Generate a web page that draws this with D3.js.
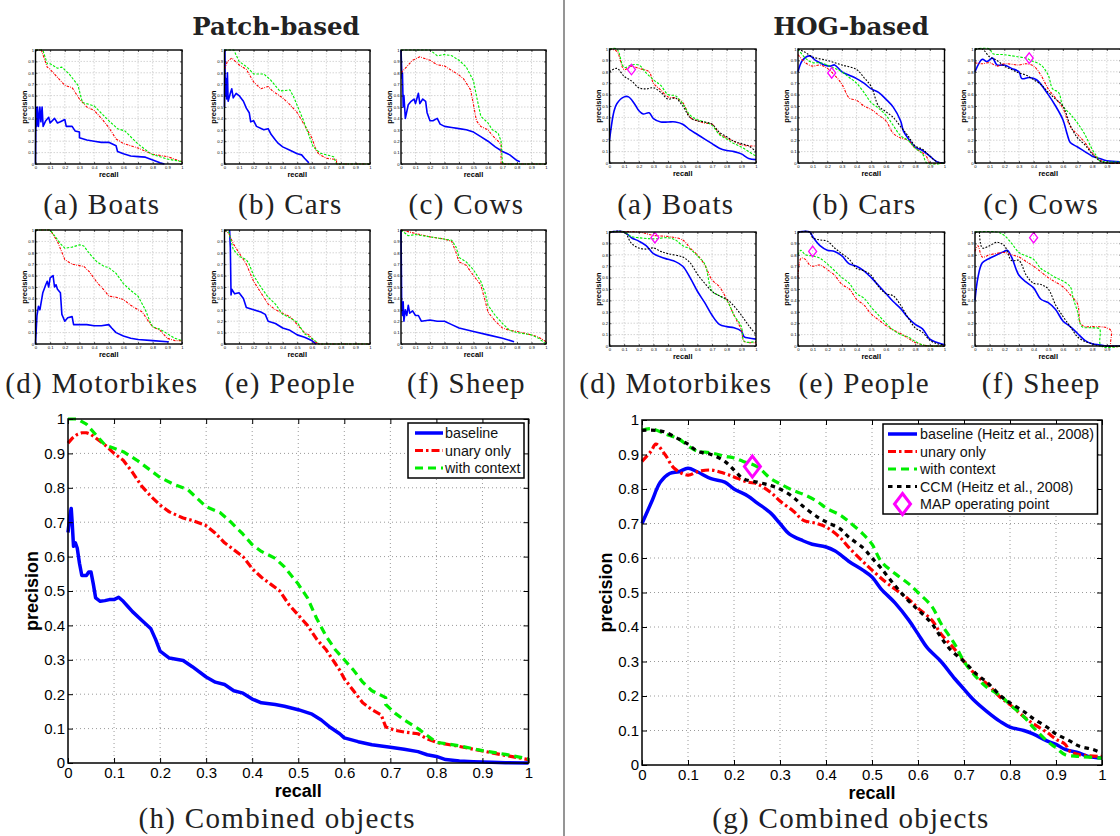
<!DOCTYPE html>
<html>
<head>
<meta charset="utf-8">
<script src="https://cdn.jsdelivr.net/npm/d3@7"></script>
<style>
  body { margin: 0; background: #fff; }
</style>
</head>
<body>
<script>
// ---------- data: [recall, precision] ----------
const seriesKeys = ['baseline', 'unary', 'context', 'ccm'];
const tickValues = [0, 0.1, 0.2, 0.3, 0.4, 0.5, 0.6, 0.7, 0.8, 0.9, 1];

const groupTitles = ['Patch-based', 'HOG-based'];
const smallCaptions = ['(a) Boats', '(b) Cars', '(c) Cows', '(d) Motorbikes', '(e) People', '(f) Sheep'];
const patchBigCaption = '(h) Combined objects';
const hogBigCaption = '(g) Combined objects';
const patchLegend = ['baseline', 'unary only', 'with context'];
const hogLegend = ['baseline (Heitz et al., 2008)', 'unary only', 'with context', 'CCM (Heitz et al., 2008)', 'MAP operating point'];

// Patch-based, small panels
const patchBoatsBase = [[0,0],[0.003,0.5],[0.008,0.33],[0.014,0.5],[0.02,0.33],[0.03,0.5],[0.037,0.37],[0.045,0.5],[0.052,0.33],[0.07,0.38],[0.09,0.41],[0.1,0.36],[0.13,0.4],[0.15,0.36],[0.17,0.37],[0.2,0.39],[0.21,0.33],[0.25,0.33],[0.27,0.29],[0.3,0.28],[0.3,0.23],[0.35,0.21],[0.4,0.2],[0.45,0.19],[0.5,0.19],[0.55,0.16],[0.56,0.11],[0.6,0.09],[0.65,0.07],[0.7,0.065],[0.75,0.06],[0.8,0.035],[0.85,0.01],[0.88,0]];
const patchBoatsUnary = [[0,1],[0.04,1],[0.08,0.85],[0.1,0.83],[0.15,0.76],[0.2,0.69],[0.25,0.67],[0.3,0.57],[0.35,0.5],[0.4,0.47],[0.45,0.4],[0.5,0.32],[0.55,0.22],[0.6,0.18],[0.7,0.14],[0.8,0.085],[0.9,0.065],[1,0.02]];
const patchBoatsCtx = [[0,1],[0.05,1],[0.08,0.88],[0.1,0.88],[0.15,0.84],[0.18,0.85],[0.23,0.79],[0.29,0.69],[0.32,0.54],[0.4,0.51],[0.5,0.38],[0.56,0.31],[0.61,0.29],[0.7,0.175],[0.79,0.087],[0.9,0.044],[1,0.02]];
const patchCarsBase = [[0,0.5],[0.003,1],[0.005,0.6],[0.01,0.75],[0.015,0.57],[0.02,0.8],[0.025,0.55],[0.04,0.62],[0.05,0.66],[0.06,0.58],[0.08,0.62],[0.1,0.6],[0.13,0.55],[0.15,0.49],[0.17,0.45],[0.18,0.37],[0.2,0.38],[0.22,0.33],[0.27,0.3],[0.3,0.31],[0.32,0.26],[0.35,0.21],[0.37,0.18],[0.4,0.15],[0.45,0.12],[0.5,0.09],[0.53,0.08],[0.55,0.05],[0.58,0.01]];
const patchCarsUnary = [[0,0.83],[0.02,0.9],[0.05,0.93],[0.1,0.87],[0.15,0.83],[0.2,0.72],[0.25,0.66],[0.3,0.68],[0.33,0.64],[0.4,0.58],[0.45,0.52],[0.5,0.45],[0.55,0.34],[0.6,0.23],[0.63,0.12],[0.65,0.085],[0.7,0.05],[0.77,0.04],[0.77,0],[1,0]];
const patchCarsCtx = [[0,1],[0.064,1],[0.1,0.9],[0.155,0.85],[0.2,0.79],[0.27,0.79],[0.315,0.74],[0.38,0.64],[0.45,0.65],[0.475,0.59],[0.54,0.39],[0.61,0.15],[0.66,0.094],[0.75,0.064],[0.77,0],[1,0]];
const patchCowsBase = [[0,1],[0.007,0.75],[0.01,0.8],[0.015,0.5],[0.02,0.6],[0.03,0.4],[0.05,0.52],[0.07,0.55],[0.09,0.57],[0.1,0.53],[0.12,0.62],[0.13,0.53],[0.15,0.57],[0.17,0.55],[0.18,0.45],[0.2,0.38],[0.22,0.38],[0.25,0.4],[0.27,0.35],[0.3,0.33],[0.35,0.32],[0.4,0.31],[0.45,0.3],[0.5,0.28],[0.55,0.24],[0.6,0.2],[0.65,0.15],[0.7,0.11],[0.75,0.08],[0.8,0.03],[0.82,0.02]];
const patchCowsUnary = [[0,0.8],[0.03,0.84],[0.08,0.91],[0.13,0.94],[0.2,0.91],[0.25,0.87],[0.3,0.86],[0.35,0.82],[0.4,0.78],[0.43,0.75],[0.48,0.65],[0.5,0.52],[0.52,0.38],[0.55,0.33],[0.6,0.3],[0.63,0.25],[0.67,0.2],[0.69,0.17],[0.69,0],[1,0]];
const patchCowsCtx = [[0,1],[0.2,1],[0.25,0.95],[0.3,0.96],[0.35,0.95],[0.4,0.91],[0.45,0.85],[0.5,0.73],[0.52,0.6],[0.55,0.42],[0.6,0.36],[0.63,0.3],[0.67,0.27],[0.69,0.2],[0.7,0],[1,0]];
const patchMotoBase = [[0,0],[0.01,0.25],[0.02,0.33],[0.03,0.3],[0.05,0.45],[0.07,0.52],[0.08,0.55],[0.09,0.5],[0.1,0.58],[0.12,0.6],[0.13,0.5],[0.14,0.52],[0.15,0.48],[0.17,0.45],[0.18,0.26],[0.2,0.2],[0.22,0.23],[0.25,0.24],[0.26,0.17],[0.3,0.17],[0.35,0.17],[0.4,0.16],[0.45,0.16],[0.5,0.17],[0.52,0.14],[0.55,0.1],[0.6,0.07],[0.65,0.05],[0.7,0.04],[0.8,0.03],[0.9,0.02],[0.91,0.02]];
const patchMotoUnary = [[0,1],[0.1,1],[0.15,0.9],[0.2,0.74],[0.25,0.7],[0.33,0.68],[0.37,0.63],[0.42,0.54],[0.47,0.47],[0.5,0.42],[0.55,0.41],[0.6,0.39],[0.65,0.34],[0.7,0.3],[0.73,0.28],[0.77,0.2],[0.8,0.15],[0.85,0.12],[0.9,0.05],[0.95,0.03],[1,0.03]];
const patchMotoCtx = [[0,1],[0.1,1],[0.13,0.95],[0.17,0.88],[0.2,0.84],[0.25,0.85],[0.3,0.87],[0.33,0.86],[0.37,0.79],[0.42,0.72],[0.47,0.68],[0.5,0.67],[0.55,0.62],[0.6,0.53],[0.65,0.47],[0.7,0.42],[0.75,0.3],[0.78,0.2],[0.8,0.15],[0.85,0.13],[0.9,0.09],[0.95,0.05],[1,0.03]];
const patchPeopleBase = [[0.035,1],[0.04,0.85],[0.045,0.43],[0.05,0.48],[0.07,0.44],[0.1,0.45],[0.13,0.4],[0.15,0.32],[0.2,0.3],[0.25,0.28],[0.28,0.26],[0.3,0.2],[0.35,0.18],[0.4,0.14],[0.45,0.12],[0.5,0.08],[0.55,0.06],[0.6,0.03],[0.63,0]];
const patchPeopleUnary = [[0,1],[0.03,0.97],[0.06,0.88],[0.1,0.8],[0.15,0.7],[0.2,0.55],[0.25,0.45],[0.3,0.35],[0.35,0.3],[0.4,0.27],[0.45,0.24],[0.5,0.17],[0.55,0.1],[0.58,0.08],[0.62,0.02],[0.65,0],[1,0]];
const patchPeopleCtx = [[0,1],[0.03,0.98],[0.06,0.83],[0.1,0.77],[0.15,0.74],[0.17,0.7],[0.2,0.6],[0.25,0.5],[0.3,0.41],[0.35,0.35],[0.4,0.26],[0.45,0.23],[0.5,0.19],[0.55,0.09],[0.6,0.05],[0.65,0],[1,0]];
const patchSheepBase = [[0,1],[0.005,0.3],[0.01,0.25],[0.015,0.37],[0.02,0.2],[0.03,0.3],[0.04,0.25],[0.05,0.34],[0.06,0.27],[0.08,0.29],[0.1,0.25],[0.12,0.25],[0.14,0.2],[0.2,0.21],[0.25,0.2],[0.3,0.2],[0.35,0.17],[0.4,0.14],[0.5,0.11],[0.6,0.08],[0.7,0.05],[0.78,0.02]];
const patchSheepUnary = [[0,1],[0.1,0.97],[0.2,0.94],[0.3,0.92],[0.35,0.9],[0.38,0.8],[0.4,0.72],[0.45,0.69],[0.5,0.6],[0.55,0.52],[0.58,0.38],[0.6,0.28],[0.65,0.2],[0.7,0.14],[0.75,0.12],[0.8,0.11],[0.9,0.08],[0.95,0.06],[1,0.02]];
const patchSheepCtx = [[0,1],[0.05,0.95],[0.1,0.96],[0.2,0.94],[0.3,0.92],[0.35,0.91],[0.38,0.85],[0.4,0.76],[0.45,0.72],[0.5,0.65],[0.55,0.55],[0.58,0.45],[0.6,0.34],[0.65,0.25],[0.7,0.18],[0.75,0.12],[0.8,0.1],[0.9,0.08],[0.95,0.05],[1,0]];

// HOG-based, small panels
const hogBoatsBase = [[0,0.2],[0.03,0.45],[0.05,0.52],[0.1,0.58],[0.13,0.58],[0.17,0.52],[0.2,0.46],[0.23,0.43],[0.27,0.44],[0.3,0.39],[0.35,0.36],[0.4,0.36],[0.45,0.36],[0.5,0.34],[0.55,0.29],[0.6,0.25],[0.65,0.21],[0.7,0.17],[0.75,0.13],[0.8,0.11],[0.85,0.1],[0.9,0.08],[0.95,0.04],[1,0.03]];
const hogBoatsUnary = [[0,1],[0.05,0.98],[0.1,0.82],[0.15,0.85],[0.2,0.83],[0.27,0.8],[0.3,0.7],[0.35,0.64],[0.4,0.58],[0.45,0.57],[0.5,0.53],[0.55,0.4],[0.6,0.37],[0.65,0.35],[0.7,0.34],[0.75,0.26],[0.8,0.22],[0.85,0.19],[0.9,0.16],[0.95,0.15],[1,0.15]];
const hogBoatsCtx = [[0,1],[0.05,1],[0.1,0.84],[0.15,0.86],[0.2,0.86],[0.25,0.79],[0.3,0.73],[0.35,0.68],[0.4,0.6],[0.45,0.59],[0.5,0.52],[0.55,0.42],[0.6,0.38],[0.65,0.36],[0.7,0.33],[0.75,0.25],[0.8,0.21],[0.85,0.17],[0.9,0.14],[0.95,0.1],[1,0.06]];
const hogBoatsCcm = [[0,0.8],[0.05,0.83],[0.1,0.76],[0.15,0.72],[0.2,0.66],[0.25,0.65],[0.3,0.66],[0.35,0.62],[0.4,0.56],[0.45,0.57],[0.5,0.5],[0.55,0.4],[0.6,0.37],[0.65,0.36],[0.7,0.34],[0.75,0.27],[0.8,0.23],[0.85,0.19],[0.9,0.17],[0.95,0.15],[1,0.1]];
const hogBoatsMap = [0.15, 0.82];
const hogCarsBase = [[0,0.8],[0.03,0.9],[0.08,0.94],[0.12,0.9],[0.15,0.88],[0.18,0.86],[0.22,0.85],[0.25,0.86],[0.3,0.8],[0.35,0.77],[0.4,0.74],[0.45,0.7],[0.5,0.65],[0.55,0.62],[0.6,0.56],[0.65,0.49],[0.7,0.37],[0.72,0.28],[0.75,0.22],[0.8,0.14],[0.85,0.11],[0.9,0.06],[0.95,0.01],[1,0]];
const hogCarsUnary = [[0,0.95],[0.05,0.88],[0.1,0.85],[0.15,0.86],[0.2,0.83],[0.25,0.77],[0.3,0.69],[0.35,0.57],[0.4,0.55],[0.45,0.5],[0.5,0.47],[0.55,0.42],[0.6,0.37],[0.65,0.26],[0.7,0.22],[0.75,0.2],[0.8,0.13],[0.85,0.09],[0.88,0.05],[0.9,0],[1,0]];
const hogCarsCtx = [[0,1],[0.05,0.92],[0.1,0.88],[0.15,0.88],[0.2,0.86],[0.25,0.83],[0.3,0.8],[0.35,0.75],[0.4,0.7],[0.45,0.62],[0.5,0.53],[0.55,0.48],[0.6,0.42],[0.65,0.33],[0.7,0.24],[0.75,0.2],[0.8,0.13],[0.85,0.08],[0.88,0],[1,0]];
const hogCarsCcm = [[0,1],[0.05,0.97],[0.1,0.93],[0.2,0.9],[0.3,0.86],[0.4,0.82],[0.45,0.75],[0.5,0.67],[0.55,0.5],[0.6,0.45],[0.65,0.4],[0.7,0.32],[0.75,0.24],[0.8,0.15],[0.85,0.12],[0.9,0.06],[0.95,0.01],[1,0]];
const hogCarsMap = [0.23, 0.79];
const hogCowsBase = [[0,0.8],[0.05,0.91],[0.08,0.89],[0.12,0.92],[0.15,0.86],[0.2,0.86],[0.25,0.83],[0.3,0.8],[0.32,0.74],[0.37,0.75],[0.42,0.73],[0.5,0.6],[0.55,0.5],[0.6,0.38],[0.63,0.25],[0.65,0.18],[0.7,0.14],[0.75,0.1],[0.8,0.06],[0.85,0.04],[0.9,0.02],[1,0.01]];
const hogCowsUnary = [[0,0.88],[0.05,0.87],[0.1,0.88],[0.15,0.85],[0.2,0.87],[0.3,0.86],[0.35,0.87],[0.4,0.85],[0.45,0.77],[0.5,0.65],[0.55,0.57],[0.6,0.48],[0.65,0.32],[0.7,0.25],[0.75,0.18],[0.8,0.09],[0.85,0.03],[0.9,0],[1,0]];
const hogCowsCtx = [[0,1],[0.1,1],[0.12,0.96],[0.2,0.95],[0.3,0.93],[0.35,0.92],[0.38,0.9],[0.45,0.86],[0.5,0.77],[0.53,0.65],[0.57,0.62],[0.6,0.5],[0.65,0.43],[0.7,0.35],[0.75,0.25],[0.8,0.12],[0.83,0.06],[0.85,0.02],[0.9,0.01],[1,0.01]];
const hogCowsCcm = [[0,1],[0.05,1],[0.1,0.93],[0.15,0.9],[0.2,0.85],[0.25,0.82],[0.3,0.79],[0.35,0.77],[0.4,0.73],[0.45,0.69],[0.5,0.62],[0.55,0.56],[0.6,0.5],[0.65,0.33],[0.7,0.22],[0.75,0.16],[0.8,0.08],[0.85,0.02],[0.9,0],[1,0]];
const hogCowsMap = [0.37, 0.92];
const hogMotoBase = [[0,1],[0.1,1],[0.15,0.95],[0.2,0.92],[0.25,0.88],[0.3,0.81],[0.35,0.78],[0.4,0.76],[0.45,0.74],[0.5,0.7],[0.55,0.6],[0.6,0.48],[0.65,0.38],[0.7,0.27],[0.75,0.19],[0.8,0.17],[0.85,0.16],[0.9,0.13],[0.92,0.08],[0.95,0.07],[1,0.06]];
const hogMotoUnary = [[0,1],[0.2,1],[0.3,0.97],[0.4,0.96],[0.5,0.93],[0.55,0.86],[0.6,0.8],[0.65,0.71],[0.7,0.58],[0.75,0.52],[0.8,0.41],[0.85,0.27],[0.9,0.14],[0.92,0.04],[1,0.03]];
const hogMotoCtx = [[0,1],[0.1,1],[0.15,0.96],[0.2,0.95],[0.3,0.94],[0.4,0.95],[0.45,0.93],[0.5,0.88],[0.55,0.85],[0.6,0.79],[0.65,0.72],[0.7,0.48],[0.75,0.44],[0.8,0.4],[0.85,0.27],[0.9,0.17],[0.92,0.04],[1,0.04]];
const hogMotoCcm = [[0,1],[0.1,1],[0.15,0.9],[0.2,0.86],[0.25,0.85],[0.3,0.86],[0.35,0.83],[0.4,0.81],[0.5,0.78],[0.55,0.73],[0.6,0.63],[0.65,0.55],[0.7,0.48],[0.75,0.44],[0.8,0.41],[0.85,0.35],[0.9,0.27],[0.95,0.18],[1,0.1]];
const hogMotoMap = [0.31, 0.95];
const hogPeopleBase = [[0,1],[0.08,1],[0.1,0.96],[0.15,0.88],[0.2,0.84],[0.25,0.83],[0.3,0.79],[0.35,0.72],[0.4,0.7],[0.45,0.66],[0.5,0.6],[0.55,0.53],[0.6,0.46],[0.65,0.39],[0.7,0.33],[0.75,0.25],[0.8,0.19],[0.85,0.15],[0.9,0.06],[0.95,0.03],[1,0.01]];
const hogPeopleUnary = [[0,0.6],[0.02,0.77],[0.05,0.76],[0.08,0.71],[0.1,0.7],[0.15,0.71],[0.2,0.67],[0.25,0.62],[0.3,0.54],[0.35,0.5],[0.4,0.41],[0.45,0.36],[0.5,0.28],[0.55,0.23],[0.6,0.18],[0.65,0.14],[0.7,0.11],[0.75,0.07],[0.8,0.03],[0.85,0.01],[0.9,0],[1,0]];
const hogPeopleCtx = [[0,0.8],[0.02,0.84],[0.05,0.8],[0.1,0.79],[0.15,0.77],[0.2,0.72],[0.25,0.66],[0.3,0.6],[0.35,0.55],[0.4,0.46],[0.45,0.42],[0.5,0.34],[0.55,0.27],[0.6,0.2],[0.65,0.14],[0.7,0.1],[0.75,0.08],[0.8,0.04],[0.85,0.01],[0.9,0],[1,0]];
const hogPeopleCcm = [[0,1],[0.08,1],[0.1,0.95],[0.15,0.93],[0.2,0.92],[0.25,0.86],[0.3,0.81],[0.35,0.76],[0.4,0.68],[0.45,0.66],[0.5,0.62],[0.55,0.52],[0.6,0.46],[0.65,0.44],[0.7,0.36],[0.75,0.25],[0.8,0.16],[0.85,0.12],[0.9,0.05],[0.95,0.02],[1,0.01]];
const hogPeopleMap = [0.1, 0.83];
const hogSheepBase = [[0,0.4],[0.02,0.6],[0.05,0.73],[0.1,0.77],[0.15,0.8],[0.2,0.83],[0.22,0.84],[0.25,0.78],[0.3,0.62],[0.35,0.56],[0.4,0.51],[0.45,0.41],[0.5,0.38],[0.55,0.32],[0.6,0.22],[0.65,0.17],[0.7,0.11],[0.75,0.05],[0.8,0.02],[0.85,0.01],[0.9,0],[1,0]];
const hogSheepUnary = [[0,0.83],[0.02,0.88],[0.05,0.78],[0.1,0.8],[0.2,0.82],[0.25,0.8],[0.3,0.78],[0.35,0.74],[0.4,0.7],[0.45,0.65],[0.5,0.6],[0.55,0.56],[0.6,0.52],[0.65,0.45],[0.7,0.37],[0.72,0.2],[0.75,0.17],[0.8,0.17],[0.9,0.16],[0.93,0.13],[0.93,0],[1,0]];
const hogSheepCtx = [[0,1],[0.15,1],[0.2,0.97],[0.25,0.9],[0.3,0.82],[0.35,0.79],[0.4,0.76],[0.45,0.68],[0.5,0.64],[0.55,0.6],[0.6,0.57],[0.65,0.52],[0.67,0.42],[0.7,0.3],[0.73,0.17],[0.8,0.16],[0.85,0.15],[0.86,0],[1,0]];
const hogSheepCcm = [[0.03,1],[0.05,0.86],[0.1,0.88],[0.15,0.91],[0.2,0.88],[0.25,0.75],[0.3,0.75],[0.35,0.62],[0.4,0.55],[0.45,0.54],[0.5,0.5],[0.55,0.36],[0.6,0.26],[0.65,0.17],[0.7,0.08],[0.75,0.04],[0.8,0.02],[0.85,0],[1,0]];
const hogSheepMap = [0.4, 0.95];

// combined objects
const patchAllBase = [[0,0.67],[0.004,0.72],[0.007,0.74],[0.009,0.7],[0.012,0.63],[0.016,0.64],[0.02,0.625],[0.025,0.58],[0.03,0.545],[0.04,0.545],[0.045,0.555],[0.05,0.555],[0.055,0.52],[0.06,0.48],[0.07,0.47],[0.08,0.472],[0.09,0.475],[0.1,0.475],[0.11,0.482],[0.12,0.47],[0.13,0.455],[0.14,0.44],[0.16,0.415],[0.18,0.39],[0.19,0.36],[0.2,0.325],[0.22,0.305],[0.25,0.298],[0.27,0.28],[0.3,0.25],[0.32,0.235],[0.34,0.228],[0.36,0.21],[0.38,0.203],[0.4,0.186],[0.42,0.175],[0.45,0.17],[0.47,0.165],[0.5,0.155],[0.53,0.142],[0.55,0.125],[0.57,0.103],[0.59,0.085],[0.6,0.073],[0.63,0.062],[0.66,0.053],[0.7,0.046],[0.73,0.04],[0.76,0.033],[0.78,0.024],[0.8,0.019],[0.82,0.01],[0.85,0.006],[0.88,0.004],[0.92,0.002],[0.95,0.001],[1,0]];
const patchAllUnary = [[0,0.93],[0.01,0.945],[0.02,0.955],[0.03,0.96],[0.04,0.96],[0.05,0.955],[0.06,0.945],[0.08,0.925],[0.1,0.9],[0.12,0.88],[0.14,0.845],[0.16,0.805],[0.18,0.775],[0.2,0.75],[0.22,0.73],[0.25,0.712],[0.27,0.705],[0.3,0.69],[0.32,0.668],[0.34,0.64],[0.36,0.62],[0.38,0.6],[0.4,0.565],[0.42,0.54],[0.44,0.52],[0.46,0.5],[0.48,0.46],[0.5,0.43],[0.52,0.4],[0.54,0.36],[0.56,0.33],[0.58,0.29],[0.59,0.27],[0.6,0.245],[0.62,0.21],[0.64,0.175],[0.66,0.155],[0.68,0.14],[0.69,0.105],[0.71,0.095],[0.73,0.09],[0.76,0.085],[0.78,0.07],[0.8,0.06],[0.85,0.048],[0.9,0.035],[0.95,0.022],[1,0.01]];
const patchAllCtx = [[0,1],[0.02,1],[0.04,0.985],[0.06,0.955],[0.08,0.925],[0.1,0.915],[0.12,0.905],[0.15,0.88],[0.18,0.85],[0.2,0.83],[0.23,0.81],[0.26,0.795],[0.28,0.77],[0.3,0.745],[0.33,0.728],[0.35,0.705],[0.38,0.665],[0.4,0.635],[0.42,0.615],[0.45,0.595],[0.47,0.57],[0.5,0.52],[0.52,0.48],[0.54,0.42],[0.56,0.37],[0.58,0.33],[0.6,0.3],[0.62,0.27],[0.64,0.235],[0.66,0.21],[0.69,0.19],[0.69,0.17],[0.71,0.145],[0.73,0.125],[0.76,0.1],[0.78,0.08],[0.8,0.06],[0.85,0.05],[0.9,0.036],[0.95,0.025],[1,0.012]];
const hogAllBase = [[0,0.7],[0.02,0.76],[0.04,0.82],[0.06,0.845],[0.08,0.85],[0.1,0.86],[0.12,0.85],[0.15,0.83],[0.18,0.82],[0.2,0.8],[0.23,0.78],[0.25,0.76],[0.28,0.73],[0.3,0.7],[0.32,0.67],[0.35,0.65],[0.37,0.64],[0.4,0.632],[0.42,0.62],[0.45,0.59],[0.48,0.565],[0.5,0.545],[0.52,0.51],[0.55,0.47],[0.58,0.42],[0.6,0.38],[0.62,0.34],[0.65,0.3],[0.68,0.25],[0.7,0.22],[0.72,0.19],[0.75,0.155],[0.78,0.125],[0.8,0.11],[0.83,0.1],[0.85,0.09],[0.88,0.07],[0.9,0.06],[0.92,0.045],[0.95,0.035],[0.97,0.025],[1,0.02]];
const hogAllUnary = [[0,0.88],[0.02,0.91],[0.03,0.93],[0.05,0.9],[0.07,0.86],[0.1,0.84],[0.12,0.85],[0.15,0.855],[0.18,0.845],[0.2,0.835],[0.23,0.82],[0.25,0.815],[0.28,0.79],[0.3,0.765],[0.33,0.735],[0.35,0.71],[0.38,0.7],[0.4,0.69],[0.43,0.66],[0.45,0.63],[0.48,0.59],[0.5,0.565],[0.53,0.53],[0.55,0.51],[0.58,0.48],[0.6,0.455],[0.63,0.42],[0.65,0.38],[0.68,0.335],[0.7,0.3],[0.73,0.255],[0.75,0.235],[0.78,0.195],[0.8,0.175],[0.83,0.14],[0.85,0.12],[0.88,0.095],[0.9,0.075],[0.92,0.06],[0.93,0.04],[0.95,0.03],[1,0.025]];
const hogAllCtx = [[0,0.97],[0.02,0.975],[0.05,0.96],[0.08,0.945],[0.1,0.925],[0.12,0.91],[0.15,0.905],[0.18,0.895],[0.2,0.89],[0.22,0.88],[0.25,0.865],[0.28,0.83],[0.3,0.815],[0.33,0.795],[0.35,0.785],[0.38,0.765],[0.4,0.745],[0.43,0.725],[0.45,0.705],[0.48,0.67],[0.5,0.64],[0.52,0.59],[0.55,0.555],[0.58,0.525],[0.6,0.5],[0.63,0.46],[0.65,0.41],[0.68,0.35],[0.7,0.3],[0.73,0.25],[0.75,0.225],[0.78,0.2],[0.8,0.175],[0.83,0.14],[0.85,0.11],[0.88,0.07],[0.9,0.05],[0.92,0.03],[0.95,0.025],[1,0.02]];
const hogAllCcm = [[0,0.97],[0.03,0.97],[0.05,0.965],[0.08,0.945],[0.1,0.93],[0.12,0.91],[0.15,0.9],[0.18,0.88],[0.2,0.855],[0.22,0.83],[0.25,0.82],[0.28,0.81],[0.3,0.8],[0.33,0.775],[0.35,0.75],[0.38,0.72],[0.4,0.705],[0.43,0.685],[0.45,0.66],[0.48,0.63],[0.5,0.6],[0.52,0.57],[0.55,0.52],[0.58,0.475],[0.6,0.45],[0.63,0.41],[0.65,0.37],[0.67,0.335],[0.7,0.3],[0.73,0.26],[0.75,0.24],[0.78,0.2],[0.8,0.18],[0.83,0.155],[0.85,0.135],[0.88,0.11],[0.9,0.09],[0.93,0.07],[0.95,0.055],[0.98,0.045],[1,0.035]];
const hogAllMap = [0.24, 0.865];

// ---------- layout ----------
const W = 1120, H = 836;
const svg = d3.select('body').append('svg').attr('width', W).attr('height', H);

const colors = { baseline: '#0000ff', unary: '#ff0000', context: '#00ee00', ccm: '#000000', map: '#ff00ff' };
const sans = "'Liberation Sans', Arial, Helvetica, sans-serif";
const serif = "'Liberation Serif', 'Times New Roman', serif";

const small = {
  width: { baseline: 1.6, unary: 1.1, context: 1.1, ccm: 1.1 },
  dash: { baseline: null, unary: '2.5,1.2,0.8,1.2', context: '2.5,1.5', ccm: '1.8,1.5' },
  tickFont: 4.2, tickLen: 2, padX: 2.5, padY: 1.5, tickW: 0.6,
  labelFont: 7.5, xlabelDy: 12.5, ylabelDx: 11.5,
  grid: '#b8b8b8', gridDash: '1.5,1.5', gridW: 0.6, boxW: 1.4,
  diamond: [8, 10.5, 1.3]
};
const big = {
  width: { baseline: 3.5, unary: 3.2, context: 3.2, ccm: 3.2 },
  dash: { baseline: null, unary: '8,3,2.5,3', context: '8,5', ccm: '4.5,4.5' },
  tickFont: 15, tickLen: 5, padX: 4.3, padY: 3, tickW: 1,
  labelFont: 18, xlabelDy: 34, ylabelDx: 36,
  grid: '#9a9a9a', gridDash: '1,3', gridW: 1, boxW: 1.5,
  diamond: [16, 21, 3]
};

const fmt = d => (d === 0 || d === 1) ? String(d) : d3.format('.1f')(d);

function diamondPath(w, h) {
  return `M0,${-h / 2}L${w / 2},0L0,${h / 2}L${-w / 2},0Z`;
}

function drawPanel(box, series, mapPoint, cfg, curve) {
  const g = svg.append('g');
  const x = d3.scaleLinear().domain([0, 1]).range([box.x0, box.x1]);
  const y = d3.scaleLinear().domain([0, 1]).range([box.y1, box.y0]);
  const inner = tickValues.slice(1, -1);

  g.append('g').selectAll('line').data(inner).join('line')
    .attr('x1', d => x(d)).attr('x2', d => x(d)).attr('y1', box.y0).attr('y2', box.y1)
    .attr('stroke', cfg.grid).attr('stroke-width', cfg.gridW).attr('stroke-dasharray', cfg.gridDash);
  g.append('g').selectAll('line').data(inner).join('line')
    .attr('y1', d => y(d)).attr('y2', d => y(d)).attr('x1', box.x0).attr('x2', box.x1)
    .attr('stroke', cfg.grid).attr('stroke-width', cfg.gridW).attr('stroke-dasharray', cfg.gridDash);

  const line = d3.line().x(d => x(d[0])).y(d => y(d[1])).curve(curve);
  seriesKeys.forEach(k => {
    if (!series[k]) return;
    g.append('path').datum(series[k])
      .attr('d', line)
      .attr('fill', 'none')
      .attr('stroke', colors[k])
      .attr('stroke-width', cfg.width[k])
      .attr('stroke-dasharray', cfg.dash[k])
      .attr('stroke-linejoin', 'round');
  });

  if (mapPoint) {
    g.append('path')
      .attr('d', diamondPath(cfg.diamond[0], cfg.diamond[1]))
      .attr('transform', `translate(${x(mapPoint[0])},${y(mapPoint[1])})`)
      .attr('fill', 'none').attr('stroke', colors.map).attr('stroke-width', cfg.diamond[2]);
  }

  g.append('rect')
    .attr('x', box.x0).attr('y', box.y0)
    .attr('width', box.x1 - box.x0).attr('height', box.y1 - box.y0)
    .attr('fill', 'none').attr('stroke', '#000').attr('stroke-width', cfg.boxW);

  // bottom labels that would fall past the page edge are not drawn (the figure is cropped there)
  const xLabelled = tickValues.filter(v => x(v) < W - 3);
  const axes = [
    { a: d3.axisBottom(x).tickFormat(d => xLabelled.includes(d) ? fmt(d) : '').tickPadding(cfg.padX), t: `translate(0,${box.y1})` },
    { a: d3.axisLeft(y).tickFormat(fmt).tickPadding(cfg.padY), t: `translate(${box.x0},0)` },
    { a: d3.axisTop(x).tickFormat(''), t: `translate(0,${box.y0})` },
    { a: d3.axisRight(y).tickFormat(''), t: `translate(${box.x1},0)` }
  ];
  axes.forEach(({ a, t }) => {
    const ag = g.append('g').attr('transform', t)
      .call(a.tickValues(tickValues).tickSizeInner(-cfg.tickLen).tickSizeOuter(0));
    ag.select('.domain').remove();
    ag.attr('font-size', cfg.tickFont).attr('font-family', sans);
    ag.selectAll('line').attr('stroke-width', cfg.tickW);
    ag.selectAll('text').filter(function () { return this.textContent === ''; }).remove();
  });

  g.append('text')
    .attr('x', (box.x0 + box.x1) / 2).attr('y', box.y1 + cfg.xlabelDy)
    .attr('text-anchor', 'middle').attr('font-family', sans).attr('font-weight', 'bold')
    .attr('font-size', cfg.labelFont).text('recall');
  g.append('text')
    .attr('transform', `translate(${box.x0 - cfg.ylabelDx},${(box.y0 + box.y1) / 2}) rotate(-90)`)
    .attr('text-anchor', 'middle').attr('dominant-baseline', 'central')
    .attr('font-family', sans).attr('font-weight', 'bold')
    .attr('font-size', cfg.labelFont).text('precision');
  return { x, y };
}

function caption(text, cx, baseline) {
  svg.append('text').attr('x', cx).attr('y', baseline)
    .attr('text-anchor', 'middle').attr('font-family', serif)
    .attr('font-size', 29).attr('letter-spacing', 1.3).attr('fill', '#222')
    .text(text);
}

function legend(box, labels, keys, cfg) {
  const g = svg.append('g');
  g.append('rect').attr('x', box.x0).attr('y', box.y0)
    .attr('width', box.x1 - box.x0).attr('height', box.y1 - box.y0)
    .attr('fill', '#fff').attr('stroke', '#000').attr('stroke-width', 1.5);
  labels.forEach((lab, i) => {
    const yy = box.y0 + 10 + i * 17.5;
    const k = keys[i];
    if (k === 'map') {
      g.append('path').attr('d', diamondPath(cfg.diamond[0], cfg.diamond[1]))
        .attr('transform', `translate(${(box.sx0 + box.sx1) / 2},${yy})`)
        .attr('fill', 'none').attr('stroke', colors.map).attr('stroke-width', cfg.diamond[2]);
    } else {
      g.append('line').attr('x1', box.sx0).attr('x2', box.sx1).attr('y1', yy).attr('y2', yy)
        .attr('stroke', colors[k]).attr('stroke-width', cfg.width[k])
        .attr('stroke-dasharray', cfg.dash[k]);
    }
    g.append('text').attr('x', box.tx).attr('y', yy)
      .attr('dominant-baseline', 'central').attr('font-family', sans)
      .attr('font-size', 14.3).attr('fill', '#111').text(lab);
  });
}

// ---------- titles & divider ----------
svg.append('line').attr('x1', 564).attr('x2', 564).attr('y1', 0).attr('y2', H)
  .attr('stroke', '#8a8a8a').attr('stroke-width', 1.8);
[276, 851].forEach((cx, i) => {
  svg.append('text').attr('x', cx).attr('y', 35)
    .attr('text-anchor', 'middle').attr('font-family', "'DejaVu Serif', serif")
    .attr('font-weight', 'bold').attr('font-size', 24.5).attr('fill', '#222')
    .text(groupTitles[i]);
});

// ---------- small panels ----------
const patchSmall = [
  { baseline: patchBoatsBase, unary: patchBoatsUnary, context: patchBoatsCtx },
  { baseline: patchCarsBase, unary: patchCarsUnary, context: patchCarsCtx },
  { baseline: patchCowsBase, unary: patchCowsUnary, context: patchCowsCtx },
  { baseline: patchMotoBase, unary: patchMotoUnary, context: patchMotoCtx },
  { baseline: patchPeopleBase, unary: patchPeopleUnary, context: patchPeopleCtx },
  { baseline: patchSheepBase, unary: patchSheepUnary, context: patchSheepCtx }
];
const hogSmall = [
  { baseline: hogBoatsBase, unary: hogBoatsUnary, context: hogBoatsCtx, ccm: hogBoatsCcm, map: hogBoatsMap },
  { baseline: hogCarsBase, unary: hogCarsUnary, context: hogCarsCtx, ccm: hogCarsCcm, map: hogCarsMap },
  { baseline: hogCowsBase, unary: hogCowsUnary, context: hogCowsCtx, ccm: hogCowsCcm, map: hogCowsMap },
  { baseline: hogMotoBase, unary: hogMotoUnary, context: hogMotoCtx, ccm: hogMotoCcm, map: hogMotoMap },
  { baseline: hogPeopleBase, unary: hogPeopleUnary, context: hogPeopleCtx, ccm: hogPeopleCcm, map: hogPeopleMap },
  { baseline: hogSheepBase, unary: hogSheepUnary, context: hogSheepCtx, ccm: hogSheepCcm, map: hogSheepMap }
];

const patchCols = [[35.5, 182], [224.5, 370], [401, 546]];
const patchRows = [[50, 164], [230, 344]];
const patchCapY = [214, 393];
const hogCols = [[609.5, 756], [798, 944.5], [975, 1121.5]];
const hogRows = [[49, 163], [232, 346]];
const hogCapY = [214, 393];

patchSmall.forEach((s, i) => {
  const c = patchCols[i % 3], r = patchRows[Math.floor(i / 3)];
  drawPanel({ x0: c[0], x1: c[1], y0: r[0], y1: r[1] }, s, null, small, d3.curveLinear);
  caption(smallCaptions[i], (c[0] + c[1]) / 2 - 7, patchCapY[Math.floor(i / 3)]);
});
hogSmall.forEach((s, i) => {
  const c = hogCols[i % 3], r = hogRows[Math.floor(i / 3)];
  drawPanel({ x0: c[0], x1: c[1], y0: r[0], y1: r[1] }, s, s.map, small, d3.curveCatmullRom.alpha(0.5));
  caption(smallCaptions[i], (c[0] + c[1]) / 2 - 7, hogCapY[Math.floor(i / 3)]);
});

// ---------- combined panels ----------
const patchBox = { x0: 68, x1: 528.5, y0: 419, y1: 763 };
drawPanel(patchBox, { baseline: patchAllBase, unary: patchAllUnary, context: patchAllCtx }, null, big, d3.curveLinear);
legend({ x0: 408, x1: 524, y0: 423, y1: 478, sx0: 415, sx1: 443, tx: 445 },
  patchLegend, ['baseline', 'unary', 'context'], big);
caption(patchBigCaption, (patchBox.x0 + patchBox.x1) / 2 - 21, 828);

const hogBox = { x0: 642, x1: 1102, y0: 420, y1: 765 };
drawPanel(hogBox, { baseline: hogAllBase, unary: hogAllUnary, context: hogAllCtx, ccm: hogAllCcm }, hogAllMap, big, d3.curveCatmullRom.alpha(0.5));
legend({ x0: 883, x1: 1097.5, y0: 424, y1: 514, sx0: 888, sx1: 917, tx: 920 },
  hogLegend, ['baseline', 'unary', 'context', 'ccm', 'map'], big);
caption(hogBigCaption, (hogBox.x0 + hogBox.x1) / 2 - 21, 828);
</script>
</body>
</html>
